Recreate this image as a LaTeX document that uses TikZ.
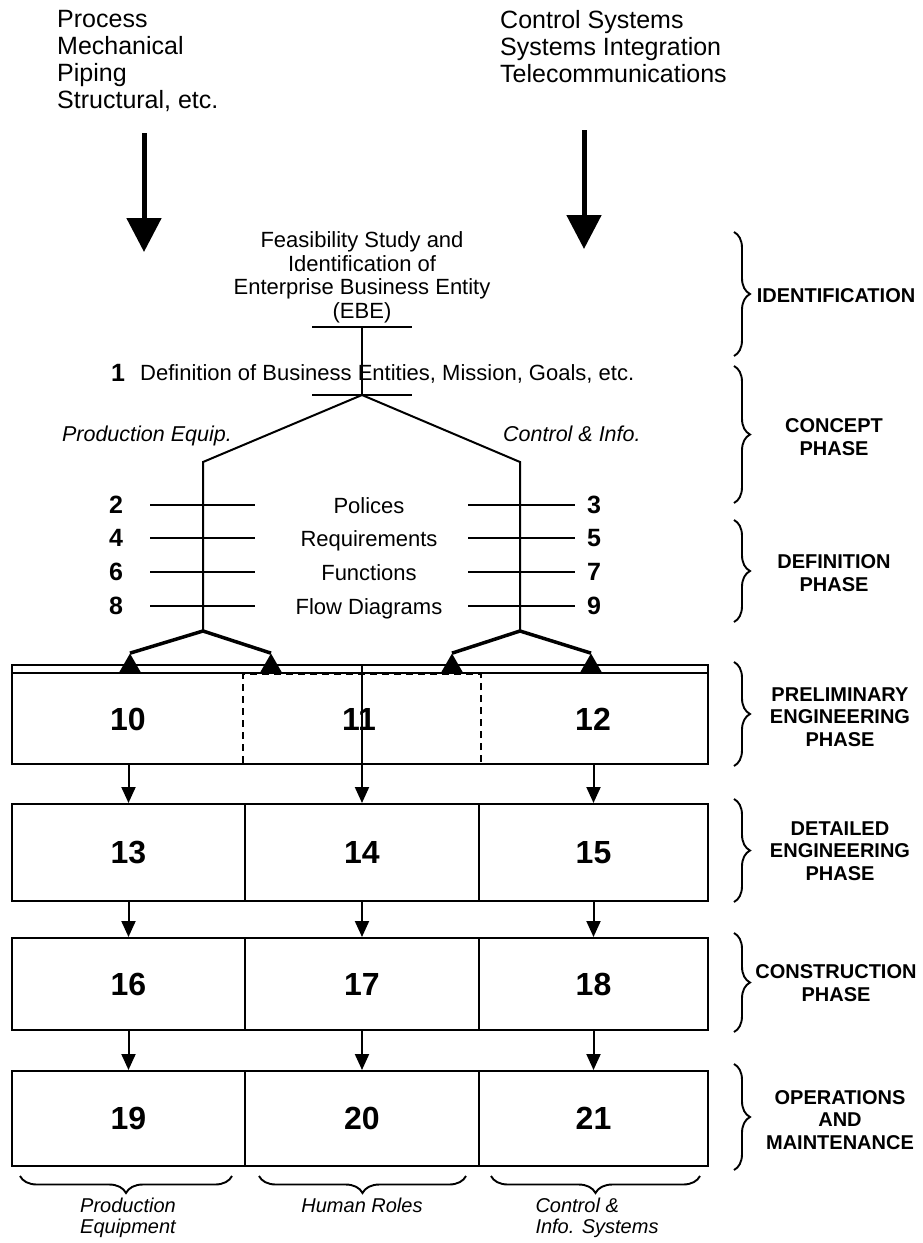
\documentclass[tikz,border=0pt]{standalone}
\usepackage{fontspec}
\setmainfont{Liberation Sans}
\usetikzlibrary{arrows.meta,decorations.pathreplacing,shapes.geometric}

% type sizes (1pt = 1 unit of the drawing grid)
\newcommand\fsTop{\fontsize{25}{27}\selectfont}
\newcommand\fsMid{\fontsize{22}{23.5}\selectfont}
\newcommand\fsSide{\fontsize{25}{27}\selectfont\bfseries}
\newcommand\fsBox{\fontsize{32}{34}\selectfont\bfseries}
\newcommand\fsPhase{\fontsize{20}{22.5}\selectfont\bfseries}
\newcommand\fsTag{\fontsize{21.5}{23}\selectfont\itshape}
\newcommand\fsFoot{\fontsize{20}{21}\selectfont\itshape}

\tikzset{
  trunk/.style={line width=2pt},
  heavy/.style={line width=5pt,-{Triangle[width=34pt,length=34pt]}},
  forkline/.style={line width=3.5pt,line join=miter},
  forkhead/.style={regular polygon,regular polygon sides=3,fill=black,inner sep=0pt,minimum size=27pt,anchor=south},
  stepflow/.style={line width=2pt,-{Triangle[width=14pt,length=16pt]}},
  stagebox/.style={draw,line width=2pt,inner sep=0pt,font=\fsBox},
  overlap/.style={draw,dash pattern=on 7pt off 5pt,line width=1.6pt,inner sep=0pt},
  phase/.style={align=center,font=\fsPhase,inner sep=0pt},
  phasebrace/.style={decorate,decoration={brace,amplitude=16pt},line width=1.9pt},
  colbrace/.style={decorate,decoration={brace,amplitude=17pt},line width=1.9pt},
  foot/.style={align=left,font=\fsFoot,inner sep=0pt,anchor=north},
}

\begin{document}
\begin{tikzpicture}[x=1pt,y=-1pt]
\useasboundingbox (0,0) rectangle (922,1243);

% ---- disciplines feeding the project ----
\node[anchor=north west,align=left,font=\fsTop,inner sep=0pt] (disc) at (57,10)
  {Process\\Mechanical\\Piping\\Structural, etc.};
\node[anchor=north west,align=left,font=\fsTop,inner sep=0pt] (ctrl) at (500,10)
  {Control Systems\\Systems Integration\\Telecommunications};
\coordinate (discA) at (144,133);
\coordinate (discB) at (144,252);
\coordinate (ctrlA) at (584,130);
\coordinate (ctrlB) at (584,249);
\draw[heavy] (discA) -- (discB);
\draw[heavy] (ctrlA) -- (ctrlB);

% ---- identification and concept ----
\node[anchor=south,align=center,font=\fsMid,inner sep=0pt] (feas) at (362,323)
  {Feasibility Study and\\Identification of\\Enterprise Business Entity\\(EBE)};
\coordinate (ebeL) at (312,327);
\coordinate (ebeR) at (412,327);
\coordinate (ebeM) at (362,327);
\coordinate (hubL) at (312,395);
\coordinate (hubR) at (412,395);
\coordinate (hub) at (362,395);
\draw[trunk] (ebeL) -- (ebeR);
\draw[trunk] (hubL) -- (hubR);

\node[anchor=base west,font=\fsSide,inner sep=0pt] (one) at (111,381) {1};
\node[anchor=base west,font=\fsMid,inner sep=0pt] (defn) at (140,380)
  {Definition of Business Entities, Mission, Goals, etc.};
\draw[trunk] (ebeM) -- (hub);

\coordinate (peTop) at (203,462);
\coordinate (ciTop) at (520,462);
\coordinate (peFork) at (203,631);
\coordinate (ciFork) at (520,631);
\draw[trunk] (hub) -- (peTop) -- (peFork);
\draw[trunk] (hub) -- (ciTop) -- (ciFork);

\node[anchor=base east,font=\fsTag,inner sep=0pt] (peTag) at (232,441) {Production Equip.};
\node[anchor=base west,font=\fsTag,inner sep=0pt] (ciTag) at (503,441) {Control \& Info.};

% ---- definition rows ----
\foreach \yy/\l/\r/\t [count=\i] in {505/2/3/Polices,538/4/5/Requirements,572/6/7/Functions,606/8/9/Flow Diagrams}{
  \node[font=\fsSide,inner sep=0pt] (ln\i) at (116,\yy) {\l};
  \node[font=\fsSide,inner sep=0pt] (rn\i) at (594,\yy) {\r};
  \node[font=\fsMid,inner sep=0pt,anchor=base] (mid\i) at (369,\yy+8) {\t};
  \draw[trunk] (150,\yy) -- (255,\yy);
  \draw[trunk] (468,\yy) -- (575,\yy);
}

% ---- preliminary engineering ----
\node[stagebox,minimum width=696pt,minimum height=99pt] (prelim) at (360,714.5) {};
\draw[trunk] ([yshift=-9pt]prelim.north west) -- ([yshift=-9pt]prelim.north east);
\node[overlap,minimum width=238pt,minimum height=90pt] (span11) at (362,719) {};
\node[font=\fsBox,inner sep=0pt] (n10) at (128,719) {10};
\node[font=\fsBox,inner sep=0pt] (n11) at (359,719) {11};
\node[font=\fsBox,inner sep=0pt] (n12) at (593,719) {12};

\node[forkhead] (h10) at (130,674) {};
\node[forkhead] (h11a) at (271,674) {};
\node[forkhead] (h11b) at (452,674) {};
\node[forkhead] (h12) at (591,674) {};
\draw[forkline] (h10.corner 1) -- (peFork) -- (h11a.corner 1);
\draw[forkline] (h11b.corner 1) -- (ciFork) -- (h12.corner 1);

% ---- detailed engineering, construction, operations ----
\node[stagebox,minimum width=233pt,minimum height=97pt] (b13) at (128.5,852.5) {13};
\node[stagebox,minimum width=234pt,minimum height=97pt] (b14) at (362,852.5) {14};
\node[stagebox,minimum width=229pt,minimum height=97pt] (b15) at (593.5,852.5) {15};
\node[stagebox,minimum width=233pt,minimum height=92pt] (b16) at (128.5,984) {16};
\node[stagebox,minimum width=234pt,minimum height=92pt] (b17) at (362,984) {17};
\node[stagebox,minimum width=229pt,minimum height=92pt] (b18) at (593.5,984) {18};
\node[stagebox,minimum width=233pt,minimum height=95pt] (b19) at (128.5,1118.5) {19};
\node[stagebox,minimum width=234pt,minimum height=95pt] (b20) at (362,1118.5) {20};
\node[stagebox,minimum width=229pt,minimum height=95pt] (b21) at (593.5,1118.5) {21};

\draw[stepflow] (b13.north |- prelim.south) -- (b13.north);
\draw[stepflow] (prelim.north -| b14.north) -- (b14.north);
\draw[stepflow] (b15.north |- prelim.south) -- (b15.north);
\draw[stepflow] (b13.south) -- (b16.north);
\draw[stepflow] (b14.south) -- (b17.north);
\draw[stepflow] (b15.south) -- (b18.north);
\draw[stepflow] (b16.south) -- (b19.north);
\draw[stepflow] (b17.south) -- (b20.north);
\draw[stepflow] (b18.south) -- (b21.north);

% ---- phase braces ----
\draw[phasebrace] (734,232) -- (734,356);
\draw[phasebrace] (734,366) -- (734,503);
\draw[phasebrace] (734,520) -- (734,622);
\draw[phasebrace] (734,662) -- (734,766);
\draw[phasebrace] (734,799) -- (734,902);
\draw[phasebrace] (734,933) -- (734,1032);
\draw[phasebrace] (734,1064) -- (734,1170);
\node[phase] (pIdent) at (836,296) {IDENTIFICATION};
\node[phase] (pConcept) at (834,437) {CONCEPT\\PHASE};
\node[phase] (pDef) at (834,573) {DEFINITION\\PHASE};
\node[phase] (pPrelim) at (840,717) {PRELIMINARY\\ENGINEERING\\PHASE};
\node[phase] (pDetail) at (840,851) {DETAILED\\ENGINEERING\\PHASE};
\node[phase] (pConstr) at (836,983) {CONSTRUCTION\\PHASE};
\node[phase] (pOps) at (840,1120) {OPERATIONS\\AND\\MAINTENANCE};

% ---- column braces ----
\draw[colbrace] (232,1176) -- (20,1176);
\draw[colbrace] (466,1176) -- (259,1176);
\draw[colbrace] (700,1176) -- (491,1176);
\node[foot] (fPE) at (128,1198) {Production\\Equipment};
\node[foot] (fHR) at (362,1198) {Human Roles};
\node[foot] (fCI) at (597,1198) {Control \&\\Info. Systems};
\end{tikzpicture}
\end{document}
